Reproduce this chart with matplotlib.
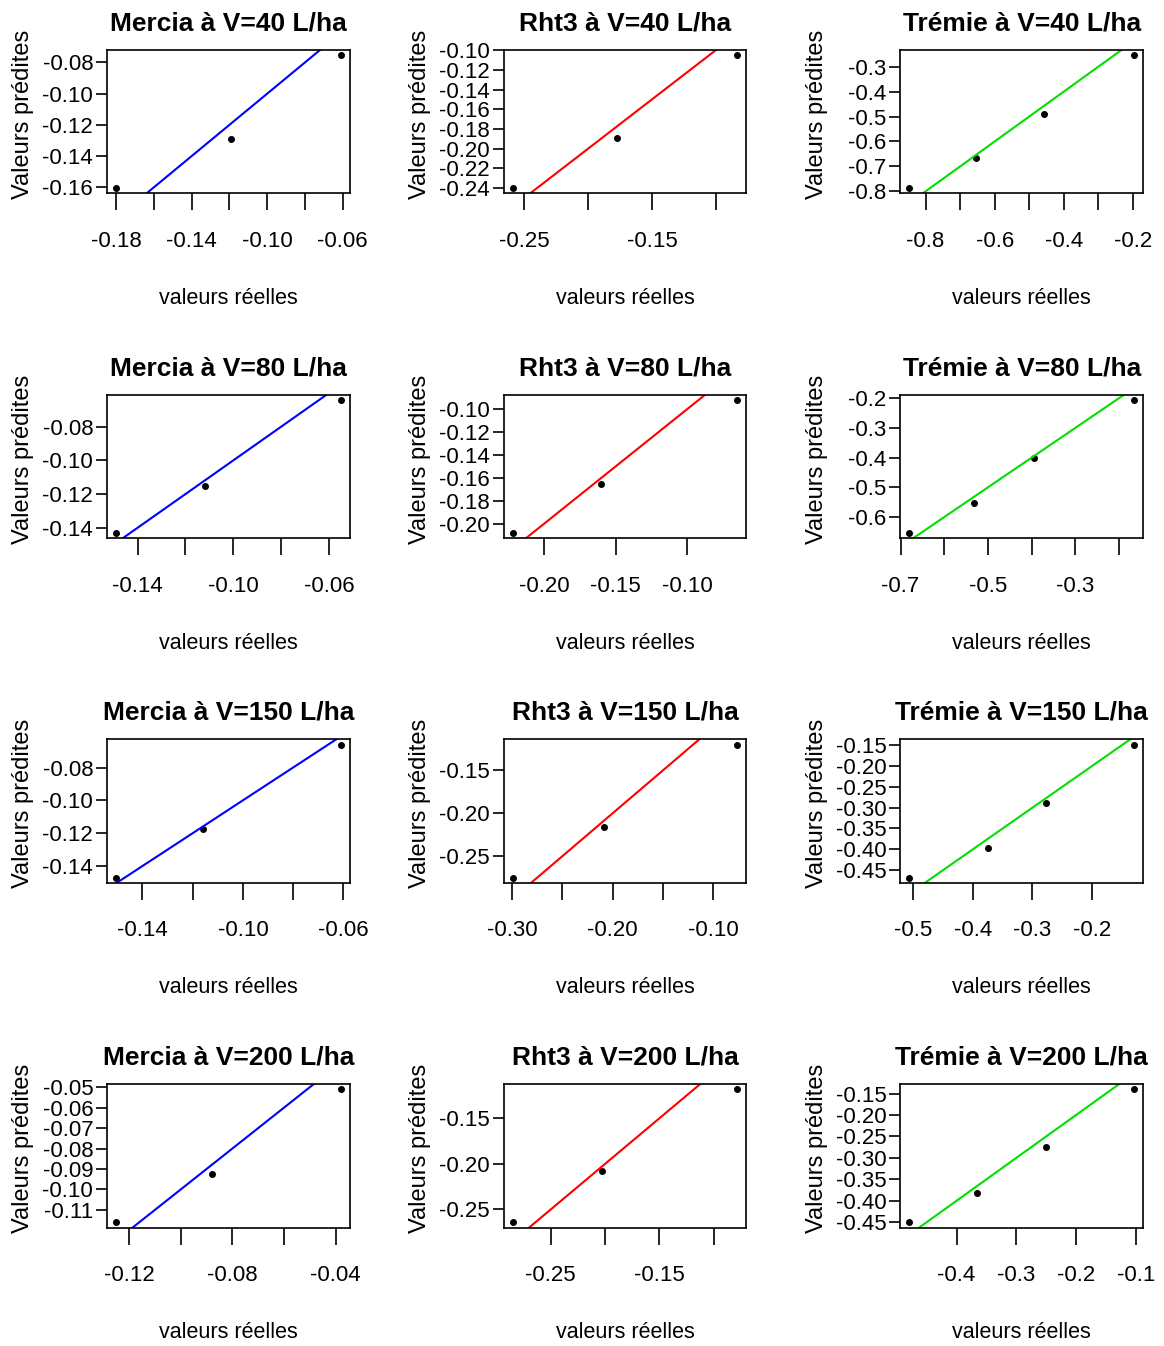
import numpy as np
import matplotlib
matplotlib.use('Agg')
import matplotlib.pyplot as plt

plt.rcParams['font.family'] = ['Liberation Sans', 'DejaVu Sans']

varietes = ['Mercia', 'Rht3', 'Trémie']
volumes = [40, 80, 150, 200]
couleurs = ['blue', 'red', '#00e000']

# valeurs réelles (x) et prédites (y), une liste par panneau, ligne par ligne
reel = [
    [-0.180, -0.119, -0.061],
    [-0.259, -0.177, -0.083],
    [-0.847, -0.654, -0.457, -0.197],
    [-0.149, -0.112, -0.055],
    [-0.222, -0.160, -0.065],
    [-0.680, -0.533, -0.395, -0.166],
    [-0.1505, -0.116, -0.061],
    [-0.2995, -0.209, -0.076],
    [-0.507, -0.375, -0.277, -0.129],
    [-0.125, -0.088, -0.038],
    [-0.285, -0.203, -0.078],
    [-0.479, -0.365, -0.251, -0.103],
]
predit = [
    [-0.1605, -0.1293, -0.0753],
    [-0.240, -0.189, -0.105],
    [-0.787, -0.668, -0.489, -0.254],
    [-0.143, -0.115, -0.064],
    [-0.208, -0.165, -0.092],
    [-0.653, -0.554, -0.400, -0.206],
    [-0.147, -0.1175, -0.066],
    [-0.275, -0.216, -0.120],
    [-0.468, -0.396, -0.289, -0.148],
    [-0.116, -0.0926, -0.051],
    [-0.264, -0.208, -0.118],
    [-0.450, -0.382, -0.275, -0.140],
]

# graduations de l'axe x (toutes) et celles qui portent une étiquette
xticks = [
    [-0.18, -0.16, -0.14, -0.12, -0.10, -0.08, -0.06],
    [-0.25, -0.20, -0.15, -0.10],
    [-0.8, -0.7, -0.6, -0.5, -0.4, -0.3, -0.2],
    [-0.14, -0.12, -0.10, -0.08, -0.06],
    [-0.20, -0.15, -0.10],
    [-0.7, -0.6, -0.5, -0.4, -0.3, -0.2],
    [-0.14, -0.12, -0.10, -0.08, -0.06],
    [-0.30, -0.25, -0.20, -0.15, -0.10],
    [-0.5, -0.4, -0.3, -0.2],
    [-0.12, -0.10, -0.08, -0.06, -0.04],
    [-0.25, -0.20, -0.15, -0.10],
    [-0.4, -0.3, -0.2, -0.1],
]
xlabels = [
    [-0.18, -0.14, -0.10, -0.06],
    [-0.25, -0.15],
    [-0.8, -0.6, -0.4, -0.2],
    [-0.14, -0.10, -0.06],
    [-0.20, -0.15, -0.10],
    [-0.7, -0.5, -0.3],
    [-0.14, -0.10, -0.06],
    [-0.30, -0.20, -0.10],
    [-0.5, -0.4, -0.3, -0.2],
    [-0.12, -0.08, -0.04],
    [-0.25, -0.15],
    [-0.4, -0.3, -0.2, -0.1],
]
yticks = [
    [-0.16, -0.14, -0.12, -0.10, -0.08],
    [-0.24, -0.22, -0.20, -0.18, -0.16, -0.14, -0.12, -0.10],
    [-0.8, -0.7, -0.6, -0.5, -0.4, -0.3],
    [-0.14, -0.12, -0.10, -0.08],
    [-0.20, -0.18, -0.16, -0.14, -0.12, -0.10],
    [-0.6, -0.5, -0.4, -0.3, -0.2],
    [-0.14, -0.12, -0.10, -0.08],
    [-0.25, -0.20, -0.15],
    [-0.45, -0.40, -0.35, -0.30, -0.25, -0.20, -0.15],
    [-0.11, -0.10, -0.09, -0.08, -0.07, -0.06, -0.05],
    [-0.25, -0.20, -0.15],
    [-0.45, -0.40, -0.35, -0.30, -0.25, -0.20, -0.15],
]
decimales = [2, 2, 1, 2, 2, 1, 2, 2, 1, 2, 2, 1]
decimales_y = [2, 2, 1, 2, 2, 1, 2, 2, 2, 2, 2, 2]

etroite = ['Liberation Sans Narrow', 'Liberation Sans', 'DejaVu Sans']

fig, axes = plt.subplots(4, 3, figsize=(11.64, 13.46), dpi=100)
plt.subplots_adjust(left=0.092, right=0.982, top=0.963, bottom=0.088,
                    wspace=0.634, hspace=1.40)

for i, ax in enumerate(axes.flat):
    r, c = divmod(i, 3)
    x = np.array(reel[i])
    y = np.array(predit[i])
    ax.plot(x, y, 'o', color='black', ms=4)
    ax.errorbar(x, y, yerr=0.012 * (y.max() - y.min()), fmt='none', ecolor='black', lw=1)
    ax.axline((0, 0), slope=1, color=couleurs[c], lw=1.5)

    fx = '%.' + str(decimales[i]) + 'f'
    fy = '%.' + str(decimales_y[i]) + 'f'
    ax.set_xticks(xticks[i])
    ax.set_xticklabels([fx % v if np.isclose(xlabels[i], v).any() else '' for v in xticks[i]],
                       family=etroite)
    ax.set_yticks(yticks[i])
    ax.set_yticklabels([fy % v for v in yticks[i]], family=etroite)
    # limites comme R : étendue des données + 4 %
    dx = x.max() - x.min()
    dy = y.max() - y.min()
    ax.set_xlim(x.min() - 0.04 * dx, x.max() + 0.04 * dx)
    ax.set_ylim(y.min() - 0.04 * dy, y.max() + 0.04 * dy)

    ax.tick_params(axis='x', length=12, width=1.2, pad=15, labelsize=16)
    ax.tick_params(axis='y', length=8, width=1.2, pad=2, labelsize=16)
    for s in ax.spines.values():
        s.set_linewidth(1.2)

    ax.set_title(f'{varietes[c]} à V={volumes[r]} L/ha', fontsize=19, fontweight='bold', pad=14)
    ax.set_xlabel('valeurs réelles', fontsize=15.5, labelpad=26)
    ax.set_ylabel('Valeurs prédites', fontsize=17)
    ax.yaxis.set_label_coords(-0.30, 0.55)

fig.savefig('out.png', dpi=100)
